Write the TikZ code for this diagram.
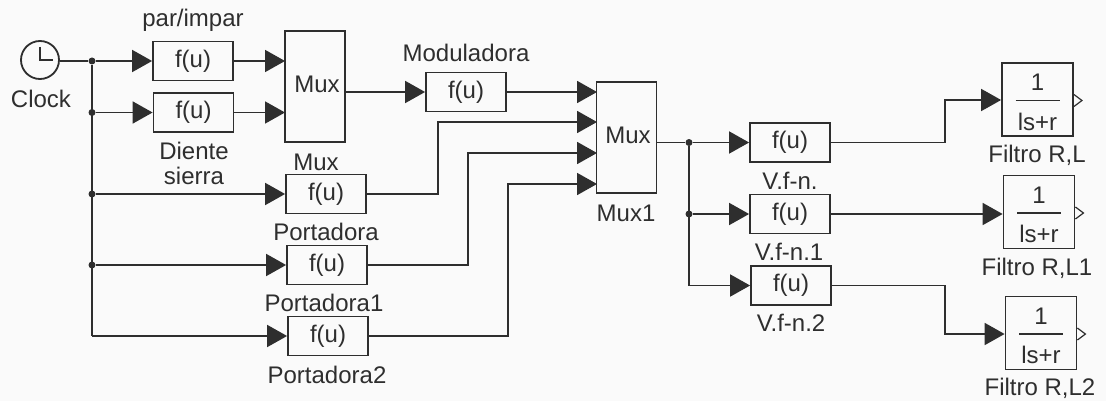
\documentclass[tikz,border=0pt]{standalone}
\usepackage{fontspec}
\setmainfont{Liberation Sans}
\usetikzlibrary{arrows.meta}
\definecolor{ink}{gray}{0.18}
\definecolor{paper}{gray}{0.98}
\tikzset{
    fblock/.style={rectangle,draw=ink,line width=0.9pt,minimum width=40pt,minimum height=19.5pt,inner sep=0pt,text=ink},
    muxblock/.style={rectangle,draw=ink,line width=0.9pt,minimum width=30pt,minimum height=55.5pt,inner sep=0pt,text=ink},
    tfblock/.style={rectangle,draw=ink,line width=0.9pt,minimum width=35.5pt,minimum height=36.5pt,inner sep=0pt,text=ink},
    lbl/.style={text=ink,inner sep=0pt,align=center},
    wire/.style={draw=ink,line width=0.9pt},
    sig/.style={wire,-{Triangle[length=10pt,width=11pt]}},
    dot/.style={circle,fill=ink,inner sep=0pt,minimum size=3.5pt},
    port/.style={draw=ink,line width=0.6pt}
}
\begin{document}
\begin{tikzpicture}[x=0.5pt,y=-0.5pt,font=\fontsize{12}{12.5}\selectfont]
    \useasboundingbox (0,0) rectangle (1106,401);
    \fill[paper] (0,0) rectangle (1106,401);
    % source
    \node[circle,draw=ink,line width=0.9pt,minimum size=19pt,inner sep=0pt] (clock) at (40,60) {};
    \draw[wire] (40,47) -- (40,60) -- (53,60);
    \node[lbl] (clocklbl) at (41,99) {Clock};
    % blocks
    \node[fblock] (par) at (193,61) {f(u)};
    \node[fblock] (diente) at (193.5,112.5) {f(u)};
    \node[muxblock] (mux) at (315,86.5) {};
    \node[lbl] (muxtxt) at (317,84) {Mux};
    \node[fblock] (mod) at (466,92) {f(u)};
    \node[fblock] (port0) at (326,194) {f(u)};
    \node[fblock] (port1) at (327,265) {f(u)};
    \node[fblock] (port2) at (328,336) {f(u)};
    \node[muxblock] (mux1) at (626.5,137.5) {};
    \node[lbl] (mux1txt) at (628,135) {Mux};
    \node[fblock] (vfn0) at (790,142.5) {f(u)};
    \node[fblock] (vfn1) at (790,214) {f(u)};
    \node[fblock] (vfn2) at (791,285.5) {f(u)};
    \node[tfblock] (fil0) at (1037.5,99.5) {};
    \node[tfblock] (fil1) at (1039,212) {};
    \node[tfblock] (fil2) at (1041,333) {};
    % labels
    \node[lbl] (parlbl) at (193,20) {par/impar};
    \node[lbl] (dientelbl) at (194,163) {Diente\\sierra};
    \node[lbl] (modlbl) at (466,53) {Moduladora};
    \node[lbl] (port0lbl) at (316,162) {Mux};
    \node[lbl] (port1lbl) at (326,232) {Portadora};
    \node[lbl] (port2lbl) at (324,303) {Portadora1};
    \node[lbl] (port3lbl) at (327,375) {Portadora2};
    \node[lbl] (mux1lbl) at (626,213) {Mux1};
    \node[lbl] (vfn0lbl) at (790,181) {V.f-n.};
    \node[lbl] (vfn1lbl) at (789,252) {V.f-n.1};
    \node[lbl] (vfn2lbl) at (791,323) {V.f-n.2};
    \node[lbl] (fil0lbl) at (1037,155) {Filtro R,L};
    \node[lbl] (fil1lbl) at (1037,268) {Filtro R,L1};
    \node[lbl] (fil2lbl) at (1040,388) {Filtro R,L2};
    % fractions
    \foreach \f in {fil0,fil1,fil2} {
        \node[lbl] (\f num) at ([yshift=8.5pt]\f.center) {1};
        \node[lbl] (\f den) at ([yshift=-11pt]\f.center) {ls+r};
        \draw[wire] ([xshift=-11pt,yshift=-0.5pt]\f.center) -- ([xshift=11pt,yshift=-0.5pt]\f.center);
        \draw[port] ([yshift=3pt,yshift=-0.5pt]\f.east) -- ([xshift=4pt,yshift=-0.5pt]\f.east) -- ([yshift=-3.5pt]\f.east);
    }
    % junctions and bends
    \node[dot] (j0) at (92,61) {};
    \node[dot] (j1) at (92,112.5) {};
    \node[dot] (j2) at (92,194) {};
    \node[dot] (j3) at (92,265) {};
    \coordinate (j4) at (92,336);
    \node[dot] (k0) at (689,142.5) {};
    \node[dot] (k1) at (689,214) {};
    \coordinate (k2) at (689,285.5);
    \coordinate (in0) at (285,61);
    \coordinate (in1) at (285,112.5);
    \coordinate (m0) at (597,92);
    \coordinate (m1) at (597,122);
    \coordinate (m2) at (597,153);
    \coordinate (m3) at (597,184);
    \coordinate (b1) at (438,122);
    \coordinate (b2) at (468,153);
    \coordinate (b3) at (508,184);
    \coordinate (c0) at (945,100);
    \coordinate (c2) at (945,334);
    % connectors
    \draw[wire] (clock.east |- j0) -- (j0);
    \draw[wire] (j0) -- (j4);
    \draw[sig] (j0) -- (par);
    \draw[sig] (j1) -- (diente);
    \draw[sig] (j2) -- (port0);
    \draw[sig] (j3) -- (port1);
    \draw[sig] (j4) -- (port2);
    \draw[sig] (par) -- (in0);
    \draw[sig] (diente) -- (in1);
    \draw[sig] (mux.east |- mod) -- (mod);
    \draw[sig] (mod) -- (m0);
    \draw[sig] (port0) -| (b1) -- (m1);
    \draw[sig] (port1) -| (b2) -- (m2);
    \draw[sig] (port2) -| (b3) -- (m3);
    \draw[wire] (mux1.east |- k0) -- (k0);
    \draw[wire] (k0) -- (k2);
    \draw[sig] (k0) -- (vfn0);
    \draw[sig] (k1) -- (vfn1);
    \draw[sig] (k2) -- (vfn2);
    \draw[sig] (vfn0) -| (c0) -- (fil0.west |- c0);
    \draw[sig] (vfn1) -- (fil1.west |- vfn1);
    \draw[sig] (vfn2) -| (c2) -- (fil2.west |- c2);
\end{tikzpicture}
\end{document}
